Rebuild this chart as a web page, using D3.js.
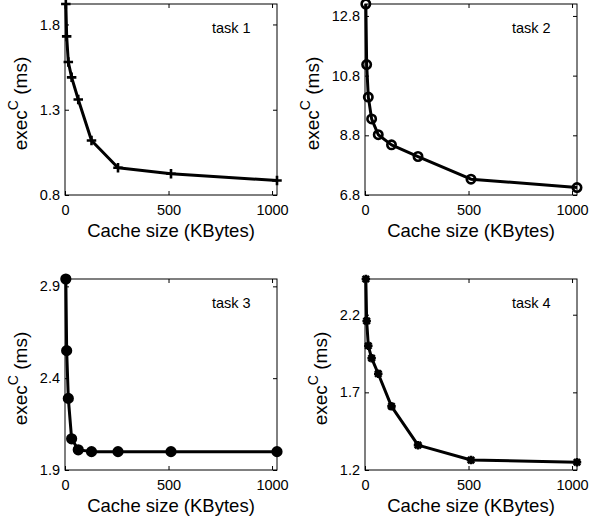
<!DOCTYPE html>
<html>
<head>
<meta charset="utf-8">
<script src="https://cdn.jsdelivr.net/npm/d3@7"></script>
<style>
body { margin: 0; background: white; }
text { font-family: "Liberation Sans", Arial, Helvetica, sans-serif; fill: black; }
</style>
</head>
<body>
<script>
// cache sizes (KBytes), same for all four tasks
let cacheSizes = [4, 8, 16, 32, 64, 128, 256, 512, 1024]

// exec^C (ms)
let task1 = [1.92, 1.73, 1.58, 1.49, 1.36, 1.12, 0.96, 0.925, 0.885]
let task2 = [13.2, 11.17, 10.08, 9.35, 8.82, 8.48, 8.09, 7.33, 7.05]
let task3 = [2.94, 2.55, 2.29, 2.07, 2.01, 2.0, 2.0, 2.0, 2.0]
let task4 = [2.43, 2.16, 2.0, 1.92, 1.82, 1.61, 1.36, 1.264, 1.25]

let xTicks = [0, 500, 1000]
let yTicks1 = [0.8, 1.3, 1.8]
let yTicks2 = [6.8, 8.8, 10.8, 12.8]
let yTicks3 = [1.9, 2.4, 2.9]
let yTicks4 = [1.2, 1.7, 2.2]

let taskNames = ["task 1", "task 2", "task 3", "task 4"]

// custom marker shapes for d3.symbol
let plusShape = {
  draw: function(ctx, size) {
    let r = Math.sqrt(size) / 2
    ctx.moveTo(-r, 0); ctx.lineTo(r, 0)
    ctx.moveTo(0, -r); ctx.lineTo(0, r)
  }
}
let starShape = {
  draw: function(ctx, size) {
    let r = Math.sqrt(size) / 2
    let d = r * 0.75
    ctx.moveTo(-r, 0); ctx.lineTo(r, 0)
    ctx.moveTo(0, -r); ctx.lineTo(0, r)
    ctx.moveTo(-d, -d); ctx.lineTo(d, d)
    ctx.moveTo(-d, d); ctx.lineTo(d, -d)
  }
}

let panels = [
  {values: task1, ticks: yTicks1, left: 65, top: 4, marker: "plus"},
  {values: task2, ticks: yTicks2, left: 365, top: 4, marker: "circle"},
  {values: task3, ticks: yTicks3, left: 65, top: 279, marker: "dot"},
  {values: task4, ticks: yTicks4, left: 365, top: 279, marker: "star"}
]
let w = 212
let h = 191

let svg = d3.select("body")
  .append("svg")
    .attr("width", 589)
    .attr("height", 521)

svg.append("rect")
    .attr("width", 589)
    .attr("height", 521)
    .attr("fill", "white")

for (let i = 0; i < panels.length; i++) {
  let p = panels[i]
  let g = svg.append("g")
      .attr("transform", "translate(" + p.left + "," + p.top + ")")

  let x = d3.scaleLinear().domain([0, 1024]).range([0, w])
  let y = d3.scaleLinear().domain([p.ticks[0], d3.max(p.values)]).range([h, 0])

  // box
  g.append("rect")
      .attr("width", w)
      .attr("height", h)
      .attr("fill", "none")
      .attr("stroke", "black")
      .attr("stroke-width", 1)

  g.append("g")
      .attr("transform", "translate(0," + h + ")")
      .call(d3.axisBottom(x).tickValues(xTicks).tickFormat(d3.format("d")).tickSize(-4).tickPadding(10))
  let leftAxis = g.append("g")
      .call(d3.axisLeft(y).tickValues(p.ticks).tickFormat(d3.format(".1f")).tickSize(-4).tickPadding(5))
  g.append("g")
      .call(d3.axisTop(x).tickValues(xTicks).tickSize(-4).tickFormat(""))
  g.append("g")
      .attr("transform", "translate(" + w + ",0)")
      .call(d3.axisRight(y).tickValues(p.ticks).tickSize(-4).tickFormat(""))

  g.selectAll(".domain").remove()
  g.selectAll(".tick line").attr("stroke", "black").attr("stroke-width", 1)
  g.selectAll(".tick text")
      .attr("font-size", 14.5)
      .attr("font-family", "Liberation Sans, Arial, sans-serif")

  // line
  let pts = cacheSizes.map((c, j) => [c, p.values[j]])
  g.append("path")
      .datum(pts)
      .attr("d", d3.line().x(d => x(d[0])).y(d => y(d[1])))
      .attr("fill", "none")
      .attr("stroke", "black")
      .attr("stroke-width", 3)
      .attr("stroke-linejoin", "round")

  // markers
  let sym
  if (p.marker == "plus") sym = d3.symbol().type(plusShape).size(90)
  else if (p.marker == "star") sym = d3.symbol().type(starShape).size(72)
  else if (p.marker == "circle") sym = d3.symbol().type(d3.symbolCircle).size(Math.PI * 4.2 * 4.2)
  else sym = d3.symbol().type(d3.symbolCircle).size(Math.PI * 4.3 * 4.3)

  g.selectAll(".mark")
    .data(pts)
    .enter()
    .append("path")
      .attr("class", "mark")
      .attr("transform", d => "translate(" + x(d[0]) + "," + y(d[1]) + ")")
      .attr("d", sym)
      .attr("fill", p.marker == "dot" ? "black" : "none")
      .attr("stroke", "black")
      .attr("stroke-width", p.marker == "circle" ? 2.6 : 2.6)

  // axis labels
  g.append("text")
      .attr("x", w / 2)
      .attr("y", h + 42)
      .attr("text-anchor", "middle")
      .attr("font-size", 18.5)
      .text("Cache size (KBytes)")

  let tickBox = leftAxis.node().getBBox()
  let lx = tickBox.x - 12.5
  let ylab = g.append("text")
      .attr("transform", "translate(" + lx + "," + (h / 2 + 4) + ") rotate(-90)")
      .attr("text-anchor", "middle")
      .attr("font-size", 19)
  ylab.append("tspan").text("exec")
  ylab.append("tspan").attr("dy", -9).attr("font-size", 14).text("C")
  ylab.append("tspan").attr("dy", 9).text(" (ms)")

  g.append("text")
      .attr("x", 147)
      .attr("y", 29)
      .attr("font-size", 14.5)
      .text(taskNames[i])
}
</script>
</body>
</html>
